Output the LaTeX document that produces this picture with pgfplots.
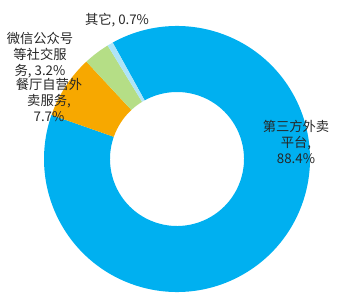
\documentclass[border=0pt]{standalone}
\usepackage{fontspec}
\setmainfont{Noto Sans CJK SC}
\usepackage{pgfplots}
\pgfplotsset{compat=1.18}
\definecolor{cBlue}{HTML}{00B0F0}
\definecolor{cOrange}{HTML}{F7A800}
\definecolor{cGreen}{HTML}{B5DE86}
\definecolor{cLight}{HTML}{AEE4F8}
\definecolor{cText}{HTML}{262626}
\begin{document}
\begin{tikzpicture}
\path[use as bounding box] (0,0) rectangle (355bp,303bp);
% data (percent), clockwise from start angle
\def\vA{88.4}\def\vB{7.7}\def\vC{3.2}\def\vD{0.7}
\pgfmathsetmacro\aA{118.9}
\pgfmathsetmacro\aB{\aA-\vA*3.6}
\pgfmathsetmacro\aC{\aB-\vB*3.6}
\pgfmathsetmacro\aD{\aC-\vC*3.6}
\pgfmathsetmacro\aE{\aD-\vD*3.6}
\def\Ro{133bp}\def\Ri{67bp}
\begin{axis}[hide axis, x=1bp, y=1bp, xmin=0, xmax=355, ymin=0, ymax=303,
  at={(0,0)}, anchor=origin, clip=false]
\fill[cBlue, shift={(axis cs:177,144)}] (\aA:\Ro) arc[start angle=\aA, end angle=\aB, radius=\Ro] -- (\aB:\Ri) arc[start angle=\aB, end angle=\aA, radius=\Ri] -- cycle;
\fill[cOrange, shift={(axis cs:177,144)}] (\aB:\Ro) arc[start angle=\aB, end angle=\aC, radius=\Ro] -- (\aC:\Ri) arc[start angle=\aC, end angle=\aB, radius=\Ri] -- cycle;
\fill[cGreen, shift={(axis cs:177,144)}] (\aC:\Ro) arc[start angle=\aC, end angle=\aD, radius=\Ro] -- (\aD:\Ri) arc[start angle=\aD, end angle=\aC, radius=\Ri] -- cycle;
\fill[cLight, shift={(axis cs:177,144)}] (\aD:\Ro) arc[start angle=\aD, end angle=\aE, radius=\Ro] -- (\aE:\Ri) arc[start angle=\aE, end angle=\aD, radius=\Ri] -- cycle;
\begin{scope}[every node/.style={text=cText, font=\fontsize{13.3bp}{16bp}\selectfont, align=center, inner sep=0pt}]
\node at (axis cs:296,161.5) {第三方外卖\\平台,\\88.4\%};
\node at (axis cs:49,203) {餐厅自营外\\卖服务,\\7.7\%};
\node at (axis cs:40,247.5) {微信公众号\\等社交服\\务, 3.2\%};
\node at (axis cs:117,283) {其它, 0.7\%};
\end{scope}
\end{axis}
\end{tikzpicture}
\end{document}
